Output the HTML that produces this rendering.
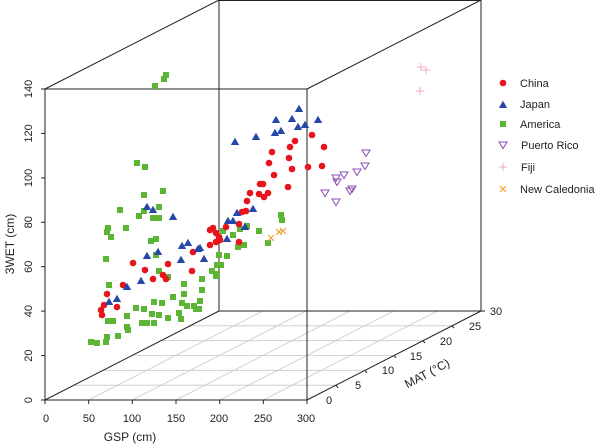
<!DOCTYPE html>
<html><head><meta charset="utf-8"><style>
html,body{margin:0;padding:0;background:#fff;}
svg{display:block;font-family:"Liberation Sans",sans-serif;}
</style></head><body>
<svg width="600" height="446" viewBox="0 0 600 446" xmlns="http://www.w3.org/2000/svg">
<g stroke="#c8c8c8" stroke-width="0.8" fill="none">
<line x1="88.7" y1="400" x2="262.7" y2="311"/>
<line x1="132.3" y1="400" x2="306.3" y2="311"/>
<line x1="176" y1="400" x2="350" y2="311"/>
<line x1="219.7" y1="400" x2="393.7" y2="311"/>
<line x1="263.3" y1="400" x2="437.3" y2="311"/>
<line x1="74" y1="385.2" x2="336" y2="385.2"/>
<line x1="103" y1="370.3" x2="365" y2="370.3"/>
<line x1="132" y1="355.5" x2="394" y2="355.5"/>
<line x1="161" y1="340.7" x2="423" y2="340.7"/>
<line x1="190" y1="325.8" x2="452" y2="325.8"/>
</g>
<g stroke="#222" stroke-width="1" fill="none">
<line x1="219" y1="0" x2="219" y2="311"/>
<line x1="219" y1="311" x2="481" y2="311"/>
<line x1="219" y1="0.5" x2="481" y2="0.5"/>
<line x1="481" y1="0" x2="481" y2="311"/>
<line x1="45" y1="89" x2="219" y2="0"/>
<line x1="307" y1="89" x2="481" y2="0"/>
<line x1="45" y1="400" x2="219" y2="311"/>
<line x1="307" y1="400" x2="481" y2="311"/>
<rect x="45" y="89" width="262" height="311"/>
<!-- y ticks -->
<line x1="41" y1="400" x2="45" y2="400"/><line x1="41" y1="355.6" x2="45" y2="355.6"/>
<line x1="41" y1="311.1" x2="45" y2="311.1"/><line x1="41" y1="266.7" x2="45" y2="266.7"/>
<line x1="41" y1="222.3" x2="45" y2="222.3"/><line x1="41" y1="177.9" x2="45" y2="177.9"/>
<line x1="41" y1="133.4" x2="45" y2="133.4"/><line x1="41" y1="89" x2="45" y2="89"/>
<!-- x ticks -->
<line x1="45" y1="400" x2="45" y2="404"/><line x1="88.7" y1="400" x2="88.7" y2="404"/>
<line x1="132.3" y1="400" x2="132.3" y2="404"/><line x1="176" y1="400" x2="176" y2="404"/>
<line x1="219.7" y1="400" x2="219.7" y2="404"/><line x1="263.3" y1="400" x2="263.3" y2="404"/>
<line x1="307" y1="400" x2="307" y2="404"/>
<!-- z ticks -->
<line x1="336" y1="385.2" x2="338" y2="388"/><line x1="365" y1="370.3" x2="367" y2="373"/>
<line x1="394" y1="355.5" x2="396" y2="358"/><line x1="423" y1="340.7" x2="425" y2="343"/>
<line x1="452" y1="325.8" x2="454" y2="328"/><line x1="481" y1="311" x2="485" y2="311"/>
</g>
<g font-size="11" fill="#222" text-anchor="middle">
<text transform="translate(32,400) rotate(-90)">0</text>
<text transform="translate(32,355.6) rotate(-90)">20</text>
<text transform="translate(32,311.1) rotate(-90)">40</text>
<text transform="translate(32,266.7) rotate(-90)">60</text>
<text transform="translate(32,222.3) rotate(-90)">80</text>
<text transform="translate(32,177.9) rotate(-90)">100</text>
<text transform="translate(32,133.4) rotate(-90)">120</text>
<text transform="translate(32,89) rotate(-90)">140</text>
<text transform="translate(14,244) rotate(-90)" font-size="12">3WET (cm)</text>
<text x="46" y="422">0</text><text x="89" y="422">50</text><text x="132" y="422">100</text>
<text x="176" y="422">150</text><text x="219" y="422">200</text><text x="263" y="422">250</text>
<text x="306" y="422">300</text>
<text x="130" y="441" font-size="12">GSP (cm)</text>
<text x="329" y="404">0</text><text x="358" y="389">5</text><text x="388" y="374">10</text>
<text x="416" y="360">15</text><text x="446" y="345">20</text><text x="475" y="330">25</text>
<text x="496" y="315">30</text>
<text transform="translate(429,377) rotate(-28)" font-size="12">MAT (°C)</text>
</g>
<g fill="#5cb534">
<rect x="152" y="83" width="6" height="6"/><rect x="161" y="76" width="6" height="6"/><rect x="163" y="72" width="6" height="6"/>
<rect x="134" y="160" width="6" height="6"/><rect x="142" y="164" width="6" height="6"/><rect x="141" y="192" width="6" height="6"/>
<rect x="160" y="188" width="6" height="6"/><rect x="117" y="207" width="6" height="6"/><rect x="136" y="213" width="6" height="6"/>
<rect x="141" y="208" width="6" height="6"/><rect x="156" y="204" width="6" height="6"/><rect x="150" y="215" width="6" height="6"/>
<rect x="156" y="215" width="6" height="6"/><rect x="105" y="225" width="6" height="6"/><rect x="104" y="229" width="6" height="6"/>
<rect x="108" y="234" width="6" height="6"/><rect x="123" y="225" width="6" height="6"/><rect x="148" y="238" width="6" height="6"/>
<rect x="153" y="236" width="6" height="6"/><rect x="103" y="256" width="6" height="6"/><rect x="153" y="252" width="6" height="6"/>
<rect x="156" y="268" width="6" height="6"/><rect x="165" y="274" width="6" height="6"/><rect x="106" y="282" width="6" height="6"/>
<rect x="181" y="281" width="6" height="6"/><rect x="199" y="276" width="6" height="6"/><rect x="199" y="287" width="6" height="6"/>
<rect x="170" y="294" width="6" height="6"/><rect x="181" y="291" width="6" height="6"/><rect x="179" y="300" width="6" height="6"/>
<rect x="151" y="299" width="6" height="6"/><rect x="159" y="300" width="6" height="6"/><rect x="133" y="305" width="6" height="6"/>
<rect x="141" y="306" width="6" height="6"/><rect x="184" y="303" width="6" height="6"/><rect x="191" y="303" width="6" height="6"/>
<rect x="197" y="298" width="6" height="6"/><rect x="196" y="306" width="6" height="6"/><rect x="193" y="306" width="6" height="6"/>
<rect x="176" y="310" width="6" height="6"/><rect x="178" y="316" width="6" height="6"/><rect x="165" y="315" width="6" height="6"/>
<rect x="156" y="312" width="6" height="6"/><rect x="149" y="311" width="6" height="6"/><rect x="151" y="320" width="6" height="6"/>
<rect x="144" y="320" width="6" height="6"/><rect x="139" y="320" width="6" height="6"/><rect x="124" y="313" width="6" height="6"/>
<rect x="124" y="324" width="6" height="6"/><rect x="125" y="327" width="6" height="6"/><rect x="105" y="318" width="6" height="6"/>
<rect x="110" y="318" width="6" height="6"/><rect x="115" y="333" width="6" height="6"/><rect x="104" y="334" width="6" height="6"/>
<rect x="103" y="339" width="6" height="6"/><rect x="94" y="340" width="6" height="6"/><rect x="88" y="339" width="6" height="6"/>
<rect x="216" y="252" width="6" height="6"/><rect x="224" y="253" width="6" height="6"/><rect x="209" y="268" width="6" height="6"/>
<rect x="214" y="271" width="6" height="6"/><rect x="214" y="262" width="6" height="6"/><rect x="218" y="262" width="6" height="6"/>
<rect x="230" y="232" width="6" height="6"/><rect x="237" y="226" width="6" height="6"/><rect x="244" y="223" width="6" height="6"/>
<rect x="235" y="244" width="6" height="6"/><rect x="241" y="242" width="6" height="6"/><rect x="256" y="228" width="6" height="6"/>
<rect x="265" y="240" width="6" height="6"/><rect x="278" y="212" width="6" height="6"/><rect x="279" y="217" width="6" height="6"/>
<rect x="213" y="273" width="6" height="6"/><rect x="220" y="228" width="6" height="6"/>
</g>
<g fill="#e8141c">
<circle cx="107" cy="294" r="3.3"/><circle cx="104" cy="305" r="3.3"/><circle cx="101" cy="310" r="3.3"/><circle cx="102" cy="315" r="3.3"/>
<circle cx="117" cy="307" r="3.3"/><circle cx="123" cy="285" r="3.3"/><circle cx="133" cy="263" r="3.3"/><circle cx="145" cy="270" r="3.3"/>
<circle cx="153" cy="279" r="3.3"/><circle cx="163" cy="275" r="3.3"/><circle cx="166" cy="279" r="3.3"/><circle cx="168" cy="264" r="3.3"/>
<circle cx="192" cy="271" r="3.3"/><circle cx="193" cy="252" r="3.3"/><circle cx="210" cy="245" r="3.3"/><circle cx="216" cy="242" r="3.3"/>
<circle cx="210" cy="230" r="3.3"/><circle cx="213" cy="228" r="3.3"/><circle cx="219" cy="237" r="3.3"/><circle cx="220" cy="240" r="3.3"/>
<circle cx="216" cy="233" r="3.3"/><circle cx="226" cy="227" r="3.3"/><circle cx="239" cy="242" r="3.3"/><circle cx="239" cy="224" r="3.3"/>
<circle cx="242" cy="212" r="3.3"/><circle cx="246" cy="211" r="3.3"/><circle cx="247" cy="201" r="3.3"/><circle cx="250" cy="193" r="3.3"/>
<circle cx="260" cy="184" r="3.3"/><circle cx="263" cy="184" r="3.3"/><circle cx="259" cy="194" r="3.3"/><circle cx="264" cy="197" r="3.3"/>
<circle cx="268" cy="193" r="3.3"/><circle cx="274" cy="175" r="3.3"/><circle cx="269" cy="163" r="3.3"/><circle cx="272" cy="152" r="3.3"/>
<circle cx="288" cy="187" r="3.3"/><circle cx="292" cy="169" r="3.3"/><circle cx="289" cy="158" r="3.3"/><circle cx="290" cy="147" r="3.3"/>
<circle cx="295" cy="141" r="3.3"/><circle cx="312" cy="135" r="3.3"/><circle cx="308" cy="167" r="3.3"/><circle cx="324" cy="147" r="3.3"/>
<circle cx="322" cy="166" r="3.3"/>
</g>
<g fill="#2547a8">
<path id="t" d="M0,-4.2 L4.2,3 L-4.2,3Z" transform="translate(109,302)"/>
<path d="M0,-4.2 L4.2,3 L-4.2,3Z" transform="translate(117,299)"/><path d="M0,-4.2 L4.2,3 L-4.2,3Z" transform="translate(127,287)"/>
<path d="M0,-4.2 L4.2,3 L-4.2,3Z" transform="translate(141,281)"/><path d="M0,-4.2 L4.2,3 L-4.2,3Z" transform="translate(147,256)"/>
<path d="M0,-4.2 L4.2,3 L-4.2,3Z" transform="translate(158,252)"/><path d="M0,-4.2 L4.2,3 L-4.2,3Z" transform="translate(181,260)"/>
<path d="M0,-4.2 L4.2,3 L-4.2,3Z" transform="translate(182,246)"/><path d="M0,-4.2 L4.2,3 L-4.2,3Z" transform="translate(188,243)"/>
<path d="M0,-4.2 L4.2,3 L-4.2,3Z" transform="translate(198,249)"/><path d="M0,-4.2 L4.2,3 L-4.2,3Z" transform="translate(204,259)"/>
<path d="M0,-4.2 L4.2,3 L-4.2,3Z" transform="translate(200,248)"/><path d="M0,-4.2 L4.2,3 L-4.2,3Z" transform="translate(147,207)"/>
<path d="M0,-4.2 L4.2,3 L-4.2,3Z" transform="translate(153,210)"/><path d="M0,-4.2 L4.2,3 L-4.2,3Z" transform="translate(173,217)"/>
<path d="M0,-4.2 L4.2,3 L-4.2,3Z" transform="translate(227,239)"/><path d="M0,-4.2 L4.2,3 L-4.2,3Z" transform="translate(228,221)"/>
<path d="M0,-4.2 L4.2,3 L-4.2,3Z" transform="translate(233,221)"/><path d="M0,-4.2 L4.2,3 L-4.2,3Z" transform="translate(237,213)"/>
<path d="M0,-4.2 L4.2,3 L-4.2,3Z" transform="translate(245,227)"/><path d="M0,-4.2 L4.2,3 L-4.2,3Z" transform="translate(253,209)"/>
<path d="M0,-4.2 L4.2,3 L-4.2,3Z" transform="translate(235,142)"/><path d="M0,-4.2 L4.2,3 L-4.2,3Z" transform="translate(256,137)"/>
<path d="M0,-4.2 L4.2,3 L-4.2,3Z" transform="translate(275,133)"/><path d="M0,-4.2 L4.2,3 L-4.2,3Z" transform="translate(281,131)"/>
<path d="M0,-4.2 L4.2,3 L-4.2,3Z" transform="translate(276,120)"/><path d="M0,-4.2 L4.2,3 L-4.2,3Z" transform="translate(292,119)"/>
<path d="M0,-4.2 L4.2,3 L-4.2,3Z" transform="translate(298,127)"/><path d="M0,-4.2 L4.2,3 L-4.2,3Z" transform="translate(299,109)"/>
<path d="M0,-4.2 L4.2,3 L-4.2,3Z" transform="translate(305,125)"/><path d="M0,-4.2 L4.2,3 L-4.2,3Z" transform="translate(318,120)"/>
</g>
<g fill="none" stroke="#8a4fb5" stroke-width="1">
<path d="M-4,-3 L4,-3 L0,3.5Z" transform="translate(366,153)"/><path d="M-4,-3 L4,-3 L0,3.5Z" transform="translate(365,166)"/>
<path d="M-4,-3 L4,-3 L0,3.5Z" transform="translate(357,172)"/><path d="M-4,-3 L4,-3 L0,3.5Z" transform="translate(344,175)"/>
<path d="M-4,-3 L4,-3 L0,3.5Z" transform="translate(336,178)"/><path d="M-4,-3 L4,-3 L0,3.5Z" transform="translate(337,182)"/>
<path d="M-4,-3 L4,-3 L0,3.5Z" transform="translate(352,189)"/><path d="M-4,-3 L4,-3 L0,3.5Z" transform="translate(350,191)"/>
<path d="M-4,-3 L4,-3 L0,3.5Z" transform="translate(325,193)"/><path d="M-4,-3 L4,-3 L0,3.5Z" transform="translate(336,202)"/>
</g>
<g stroke="#f4a9c0" stroke-width="1">
<path d="M417,67h8M421,63v8M422,70h8M426,66v8M416,91h8M420,87v8"/>
</g>
<g stroke="#f29a1e" stroke-width="1">
<path d="M268,235l6,6M274,235l-6,6M276,229l6,6M282,229l-6,6M280,228l6,6M286,228l-6,6"/>
</g>
<!-- legend -->
<circle cx="503" cy="83" r="3.3" fill="#e8141c"/>
<path d="M0,-4.2 L4.2,3 L-4.2,3Z" transform="translate(503,105)" fill="#2547a8"/>
<rect x="500" y="121" width="6" height="6" fill="#5cb534"/>
<path d="M-4,-3 L4,-3 L0,3.5Z" transform="translate(503,145)" fill="none" stroke="#8a4fb5"/>
<path d="M499,167h8M503,163v8" stroke="#f4a9c0"/>
<path d="M500,186l6,6M506,186l-6,6" stroke="#f29a1e"/>
<g font-size="11" fill="#222">
<text x="520" y="87">China</text><text x="520" y="108">Japan</text><text x="520" y="128">America</text>
<text x="521" y="149">Puerto Rico</text><text x="521" y="171">Fiji</text><text x="520" y="193">New Caledonia</text>
</g>
</svg>
</body></html>
